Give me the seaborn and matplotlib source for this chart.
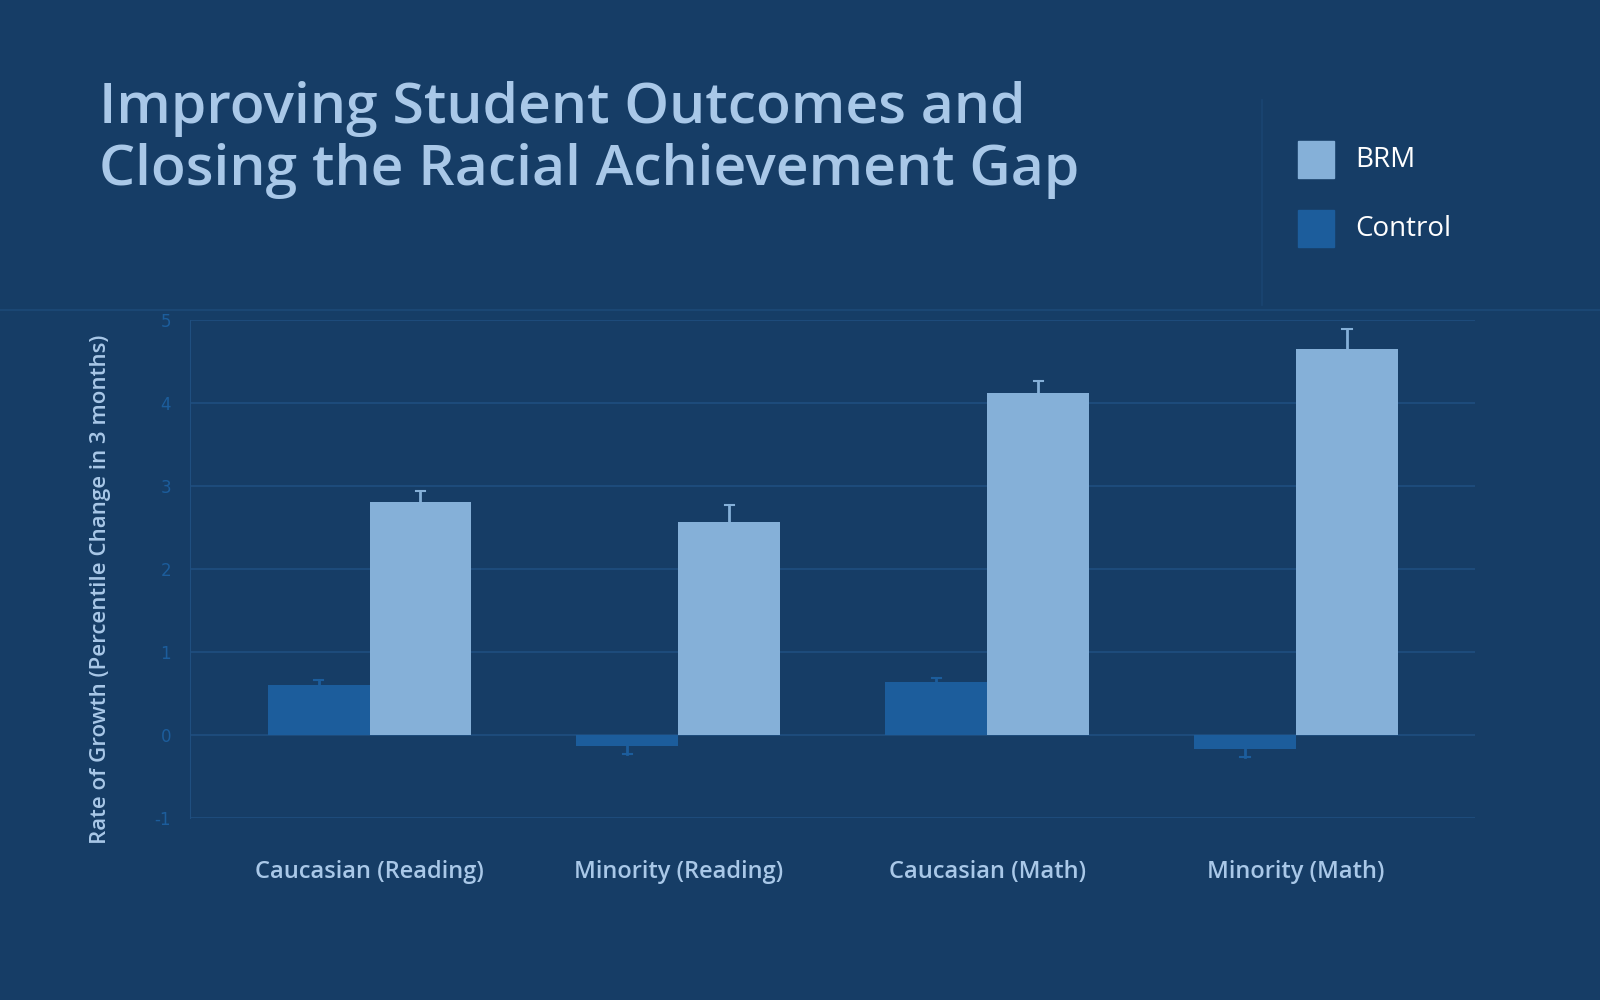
import matplotlib
matplotlib.use("Agg")
import matplotlib.pyplot as plt
import seaborn as sns
import pandas as pd
import numpy as np
from matplotlib.patches import Rectangle
from matplotlib.lines import Line2D

categories = ["Caucasian (Reading)", "Minority (Reading)", "Caucasian (Math)", "Minority (Math)"]
groups = ["Control", "BRM"]
control_vals = [0.60, -0.13, 0.64, -0.17]
control_err = [0.06, 0.10, 0.05, 0.10]
brm_vals = [2.81, 2.57, 4.12, 4.65]
brm_err = [0.13, 0.20, 0.15, 0.24]

BG = "#163d66"
C_CTRL = "#1c5d9c"
C_BRM = "#85b0d8"
TXT = "#a9c8e8"
GRID = "#1f4f80"

df = pd.DataFrame({
    "cat": categories * 2,
    "group": ["Control"] * 4 + ["BRM"] * 4,
    "val": control_vals + brm_vals,
    "err": control_err + brm_err,
})

fig = plt.figure(figsize=(16, 10), dpi=100, facecolor=BG)
ax = fig.add_axes([0.119, 0.182, 0.803, 0.498], facecolor=BG)
sns.barplot(data=df, x="cat", y="val", hue="group", hue_order=groups, order=categories,
            palette={"Control": C_CTRL, "BRM": C_BRM}, width=0.66, errorbar=None,
            saturation=1, ax=ax, legend=False, zorder=3)
for bars, gname in zip(ax.containers, groups):
    sub = df[df.group == gname].set_index("cat").loc[categories]
    col = C_BRM if gname == "BRM" else C_CTRL
    for p, v, e in zip(bars, sub["val"], sub["err"]):
        x = p.get_x() + p.get_width() / 2
        end = v + e if v >= 0 else v - e
        ax.plot([x, x], [v, end], color=col, lw=2, zorder=4)
        ax.plot([x - 0.015, x + 0.015], [end, end], color=col, lw=1.5, zorder=4)

ax.set_ylim(-1, 5)
ax.set_xlim(-0.58, 3.58)
ax.set_yticks(range(-1, 6))
ax.set_yticklabels([str(i) for i in range(-1, 6)])
ax.yaxis.grid(True, color=GRID, linewidth=1.2, zorder=0)
ax.set_axisbelow(True)
for s in ["top", "right", "bottom"]:
    ax.spines[s].set_visible(False)
ax.spines["left"].set_color(GRID)
ax.tick_params(axis="y", colors=C_CTRL, labelsize=12, length=0, pad=14)
ax.tick_params(axis="x", colors=TXT, labelsize=17, length=0, pad=30)
for t in ax.get_xticklabels():
    t.set_fontfamily("Open Sans")
    t.set_fontweight("semibold")
ax.set_xlabel("")
ax.set_ylabel("Rate of Growth (Percentile Change in 3 months)", color=TXT, fontsize=16,
              fontfamily="Open Sans", fontweight="semibold")
ax.yaxis.set_label_coords(-0.062, 0.46)

fig.text(0.062, 0.860, "Improving Student Outcomes and\nClosing the Racial Achievement Gap",
         color=TXT, fontsize=41, fontweight="semibold", fontfamily="Open Sans",
         va="center", ha="left", linespacing=1.15)

fig.add_artist(Line2D([0, 1], [0.69, 0.69], color="#1d4a78", lw=1.2))
fig.add_artist(Line2D([0.789, 0.789], [0.695, 0.9], color="#1a4572", lw=1.2))
fig.add_artist(Rectangle((0.811, 0.822), 0.023, 0.037, color=C_BRM))
fig.add_artist(Rectangle((0.811, 0.753), 0.023, 0.037, color=C_CTRL))
fig.text(0.847, 0.840, "BRM", color="white", fontsize=20, fontfamily="Open Sans", va="center")
fig.text(0.847, 0.771, "Control", color="white", fontsize=20, fontfamily="Open Sans", va="center")

fig.savefig("out.png", facecolor=BG)
